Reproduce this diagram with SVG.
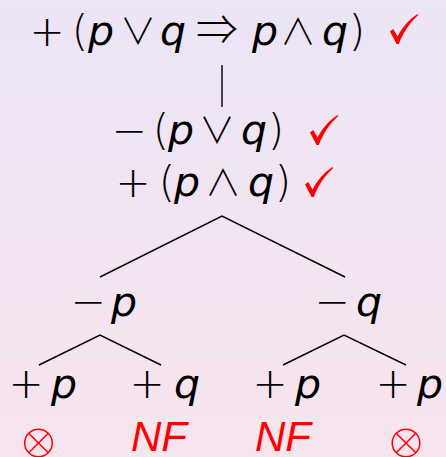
<svg xmlns="http://www.w3.org/2000/svg" xmlns:xlink="http://www.w3.org/1999/xlink" width="446" height="457" viewBox="0 0 446 457">
<defs>
<linearGradient id="bg" x1="0" y1="0" x2="0" y2="1">
<stop offset="0" stop-color="#ece5f6"/>
<stop offset="1" stop-color="#f7e4ee"/>
</linearGradient>
<path id="chk" d="M0,17.5 L3.2,15 L7.6,22.5 C12,13.5 19,5.5 27.5,0 L28.2,1 C20,8.5 13.5,18 8.8,30 L6.6,30 Z" fill="#ff0000"/>
<g id="otimes" fill="none" stroke="#ff0000" stroke-width="1.5">
<circle cx="0" cy="0" r="13.8"/>
<line x1="-9.8" y1="-9.8" x2="9.8" y2="9.8"/>
<line x1="-9.8" y1="9.8" x2="9.8" y2="-9.8"/>
</g>
<style>
text{fill:#000;text-anchor:middle}
.o{font-family:"DejaVu Sans",sans-serif;font-size:42px;font-weight:200}
.m{font-family:"Noto Sans CJK JP","DejaVu Sans",sans-serif;font-size:36px;font-weight:300}
.v{font-family:"DejaVu Sans",sans-serif;font-size:41px;font-style:italic}
.nf{font-family:"Liberation Sans",Arial,sans-serif;font-size:42px;font-style:italic;fill:#ff0000;text-anchor:start}
.e{stroke:#000;stroke-width:1.4;fill:none}
</style>
</defs>
<rect width="446" height="457" fill="url(#bg)"/>
<g id="connectors">
<line class="e" x1="222" y1="65" x2="222" y2="107"/>
<polyline class="e" points="100,277 222,216 345,277"/>
<polyline class="e" points="39,365 100,335 161,365"/>
<polyline class="e" points="283,365 344,335 406,365"/>
</g>
<g id="n1">
<text class="o" x="47" y="46">+</text>
<text class="o" x="80" y="46">(</text>
<text class="v" x="101" y="45">p</text>
<text class="m" x="138" y="45">∨</text>
<text class="v" x="173" y="45">q</text>
<text class="m" x="217" y="45" style="font-size:42px">⇒</text>
<text class="v" x="265" y="45">p</text>
<text class="m" x="298" y="45">∧</text>
<text class="v" x="335" y="45">q</text>
<text class="o" x="357" y="46">)</text>
<use xlink:href="#chk" x="390" y="14"/>
</g>
<g id="n2">
<text class="o" x="129" y="145">−</text>
<text class="o" x="161" y="145">(</text>
<text class="v" x="181" y="144">p</text>
<text class="m" x="217" y="144">∨</text>
<text class="v" x="254" y="144">q</text>
<text class="o" x="276" y="145">)</text>
<use xlink:href="#chk" x="310" y="115"/>
</g>
<g id="n3">
<text class="o" x="133" y="197">+</text>
<text class="o" x="167" y="197">(</text>
<text class="v" x="187" y="196">p</text>
<text class="m" x="223" y="196">∧</text>
<text class="v" x="261" y="196">q</text>
<text class="o" x="283" y="197">)</text>
<use xlink:href="#chk" x="305" y="167"/>
</g>
<g id="n4">
<text class="o" x="88" y="316">−</text>
<text class="v" x="124" y="316">p</text>
</g>
<g id="n5">
<text class="o" x="332" y="316">−</text>
<text class="v" x="369" y="316">q</text>
</g>
<g id="n6">
<text class="o" x="26" y="398">+</text>
<text class="v" x="64" y="398">p</text>
<use xlink:href="#otimes" x="38.5" y="443"/>
</g>
<g id="n7">
<text class="o" x="147" y="398">+</text>
<text class="v" x="187" y="398">q</text>
<text class="nf" x="131" y="451">NF</text>
</g>
<g id="n8">
<text class="o" x="270" y="398">+</text>
<text class="v" x="308" y="398">p</text>
<text class="nf" x="255" y="451">NF</text>
</g>
<g id="n9">
<text class="o" x="393" y="398">+</text>
<text class="v" x="430" y="398">p</text>
<use xlink:href="#otimes" x="406" y="443"/>
</g>
</svg>
